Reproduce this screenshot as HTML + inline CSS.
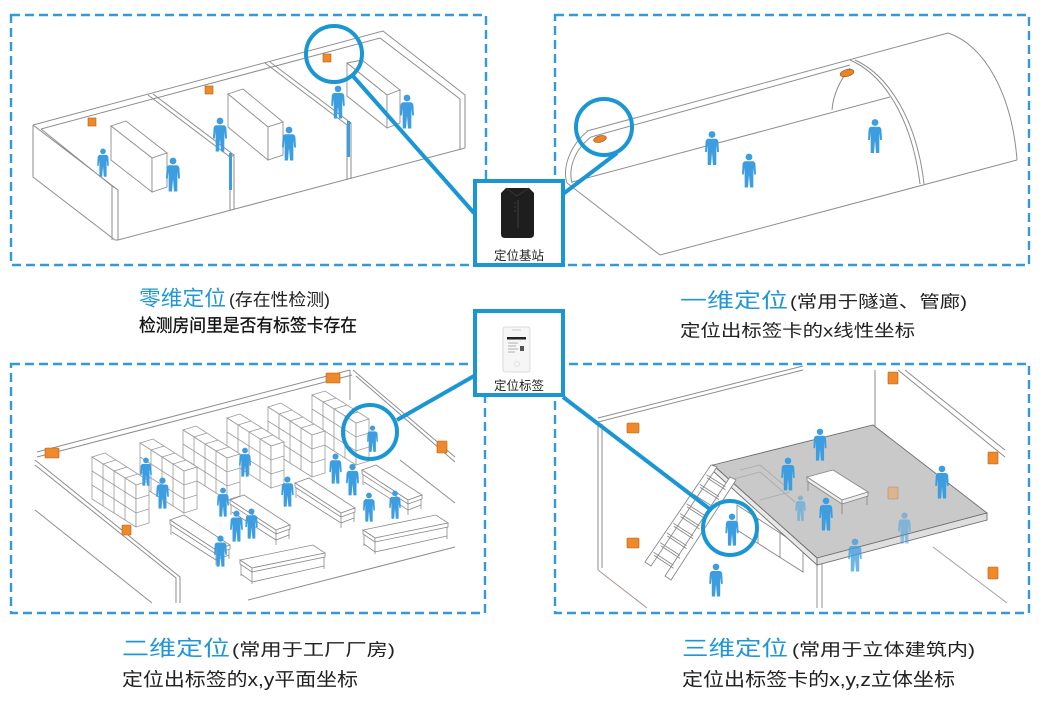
<!DOCTYPE html>
<html><head><meta charset="utf-8"><style>
html,body{margin:0;padding:0;background:#fff;}
svg{display:block}
text{font-family:"Liberation Sans","Noto Sans CJK SC",sans-serif;}
</style></head><body>
<svg width="1044" height="708" viewBox="0 0 1044 708" xmlns="http://www.w3.org/2000/svg">
<defs>
<symbol id="p" viewBox="0 0 14 36">
 <circle cx="7" cy="4" r="3.4"/>
 <path d="M3.2 8.2 H10.8 Q13 8.5 13.4 11 L14 21.5 H12.2 L11.4 14.5 L11.3 34.5 H8 L7 22 L6 34.5 H2.7 L2.6 14.5 L1.8 21.5 H0 L0.6 11 Q1 8.5 3.2 8.2Z"/>
</symbol>
<g id="row" fill="#fff" stroke="#9a9a9a" stroke-width="0.8">
 <polygon points="0,0 13,-4 57,24 44,28"/>
 <polygon points="0,0 44,28 44,70 0,42"/>
 <polygon points="44,28 57,24 57,66 44,70"/>
 <path fill="none" d="M11,7V49M22,14V56M33,21V63M11,7L24,3M22,14L35,10M33,21L46,17M0,14L44,42L57,38M0,28L44,56L57,52"/>
</g>
<g id="tA" fill="#fff" stroke="#8a8a8a" stroke-width="0.8">
 <path fill="none" d="M1,4V15M46,34V45M59,29V39M2,12L46,40L59,35"/>
 <polygon points="0,0 14,-5 60,25 46,30"/>
 <polygon points="0,0 46,30 46,34 0,4"/>
 <polygon points="46,30 60,25 60,29 46,34"/>
</g>
<g id="tB" fill="#fff" stroke="#8a8a8a" stroke-width="0.8">
 <path fill="none" d="M1,4V16M12,12V24M84,-3V9M1,14L12,22L84,6"/>
 <polygon points="0,0 73,-15 85,-7 12,8"/>
 <polygon points="0,0 12,8 12,12 0,4"/>
 <polygon points="12,8 85,-7 85,-3 12,12"/>
</g>
</defs>

<!-- ============ TOP LEFT: rooms ============ -->
<g fill="none" stroke="#8e8e8e" stroke-width="1">
 <path d="M33,125 L383,31 L465,95 V148"/>
 <path d="M41,129 L380,38 L460,99 V150"/>
 <path d="M33,125 V177 L115,240 H118 L465,148"/>
 <path d="M33,125 L118,190 V240 M41,129 L112,186 V240 M112,186 L118,190"/>
 <path d="M148,95 L230,157 V210 M153,94 L234,155 V209 M230,157 L234,155"/>
 <path d="M265,63 L347,125 V180 M270,62 L351,123 V179 M347,125 L351,123"/>
</g>
<g fill="#fff" stroke="#8e8e8e" stroke-width="0.9">
 <polygon points="111,126 126,121 167,153 152,158"/>
 <polygon points="111,126 152,158 152,192 111,160"/>
 <polygon points="152,158 167,153 167,187 152,192"/>
 <polygon points="228,94 243,89 283,122 268,127"/>
 <polygon points="228,94 268,127 268,160 228,127"/>
 <polygon points="268,127 283,122 283,155 268,160"/>
 <polygon points="347,63 362,60 400,90 387,95"/>
 <polygon points="347,63 387,95 387,128 347,96"/>
 <polygon points="387,95 400,90 400,123 387,128"/>
</g>
<g fill="#f0892a" stroke="#b35e14" stroke-width="0.6">
 <rect x="88" y="118" width="8" height="8"/>
 <rect x="205" y="86" width="8" height="8"/>
 <rect x="323" y="54" width="8" height="8"/>
</g>
<g fill="#3c9ee0">
 <use href="#p" x="97" y="148" width="12" height="30"/>
 <use href="#p" x="166" y="157" width="14" height="36"/>
 <use href="#p" x="213" y="117" width="14" height="36"/>
 <use href="#p" x="282" y="126" width="14" height="36"/>
 <use href="#p" x="331" y="85" width="14" height="35"/>
 <use href="#p" x="400" y="94" width="14" height="36"/>
 <rect x="229" y="153" width="3" height="37"/>
 <rect x="347" y="121" width="3" height="36"/>
</g>

<!-- ============ TOP RIGHT: tunnel ============ -->
<g fill="none" stroke="#8e8e8e" stroke-width="1">
 <path d="M587,131 L948,33"/>
 <path d="M567,183 C562,168 570,145 588,131"/>
 <path d="M572,183 C568,168 575,149 591,137"/>
 <path d="M591,137 L850,65"/>
 <path d="M572,182 L890,97"/>
 <path d="M850,60 C885,75 912,120 920,184"/>
 <path d="M855,60 C890,76 917,122 924,184"/>
 <path d="M850,68 C840,80 833,95 832,110"/>
 <path d="M948,33 C985,45 1012,95 1017,160"/>
 <path d="M567,183 L660,255 L1017,160"/>
</g>
<g fill="#e8842a" stroke="#9a5210" stroke-width="0.6">
 <ellipse cx="600" cy="139" rx="6.5" ry="3.2" transform="rotate(-15 600 139)"/>
 <ellipse cx="847" cy="73" rx="7" ry="3.5" transform="rotate(-15 847 73)"/>
</g>
<g fill="#3c9ee0">
 <use href="#p" x="705" y="130" width="14" height="37"/>
 <use href="#p" x="742" y="153" width="14" height="36"/>
 <use href="#p" x="868" y="118" width="14" height="37"/>
</g>

<!-- ============ BOTTOM LEFT: factory ============ -->
<g fill="none" stroke="#8e8e8e" stroke-width="1">
 <path d="M37,452 L350,370 M37,457 L352,375"/>
 <path d="M350,370 V400 M353,370 L455,457 M356,376 L455,462 M400,460 L455,503"/>
 <path d="M35,460 L180,577 V603 M35,465 L176,578 V603"/>
 <path d="M35,510 L152,603"/>
 <path d="M248,600 L455,547"/>
</g>
<use href="#row" x="312" y="395"/>
<use href="#row" x="268" y="407"/>
<use href="#row" x="227" y="418"/>
<use href="#row" x="183" y="430"/>
<use href="#row" x="140" y="443"/>
<use href="#row" x="92" y="457"/>
<use href="#tA" x="362" y="470"/>
<use href="#tA" x="295" y="483"/>
<use href="#tA" x="230" y="500"/>
<use href="#tA" x="170" y="520"/>
<use href="#tB" x="363" y="530"/>
<use href="#tB" x="240" y="560"/>
<g fill="#f0892a" stroke="#b35e14" stroke-width="0.6">
 <rect x="326" y="373" width="14" height="10" rx="1"/>
 <rect x="45" y="448" width="14" height="10" rx="1"/>
 <rect x="122" y="525" width="9" height="10" rx="1"/>
 <rect x="437" y="441" width="10" height="12" rx="1"/>
</g>
<g fill="#3c9ee0">
 <use href="#p" x="140" y="457" width="12" height="30"/>
 <use href="#p" x="156" y="477" width="13" height="33"/>
 <use href="#p" x="239" y="447" width="12" height="31"/>
 <use href="#p" x="217" y="487" width="12" height="31"/>
 <use href="#p" x="230" y="510" width="13" height="33"/>
 <use href="#p" x="245" y="508" width="13" height="32"/>
 <use href="#p" x="214" y="535" width="13" height="33"/>
 <use href="#p" x="281" y="476" width="13" height="32"/>
 <use href="#p" x="329" y="453" width="13" height="32"/>
 <use href="#p" x="346" y="463" width="13" height="34"/>
 <use href="#p" x="363" y="492" width="12" height="31"/>
 <use href="#p" x="389" y="490" width="12" height="30"/>
 <use href="#p" x="367" y="425" width="11" height="28"/>
</g>

<!-- ============ BOTTOM RIGHT: 3D building ============ -->
<g fill="none" stroke="#8e8e8e" stroke-width="1">
 <path d="M598,422 V570 M602,424 V568"/>
 <path d="M598,422 L803,370 M598,418 L803,366"/>
 <path d="M875,370 V427"/>
 <path d="M898,370 L1005,457 M905,370 L1005,450"/>
 <path d="M598,570 L647,608" stroke="#b09090"/>
 <path d="M933,547 L1007,603" stroke="#a0a0a0"/>
</g>
<g stroke="#8a8a8a" stroke-width="0.9">
 <polygon points="737,505 803,548 803,572 737,530" fill="#fff"/>
 <path d="M758,519V543M780,533V557" fill="none"/>
 <path d="M817,564 V608 M822,563 V608" fill="none"/>
 <polygon points="713,465 873,425 987,513 817,558" fill="#c9c9c9" stroke="#6e6e6e"/>
 <polygon points="817,558 987,513 987,520 817,565" fill="#dedede" stroke="#6e6e6e"/>
 <polygon points="713,465 817,558 817,565 713,471" fill="#e8e8e8" stroke="#6e6e6e"/>
 <path d="M740,470 L760,465 L790,490 M730,480 L760,472 L795,502 M760,500 L790,492" fill="none" stroke="#aaa"/>
 <polygon points="807,477 833,470 868,492 842,500" fill="#fff"/>
 <polygon points="807,477 842,500 842,504 807,481" fill="#eee"/>
 <polygon points="842,500 868,492 868,496 842,504" fill="#eee"/>
 <path d="M808,481V491M842,504V514M867,496V505" fill="none"/>
 <polygon points="645,562 711,465 717,467 651,566" fill="#fff"/>
 <polygon points="665,576 730,477 736,480 671,580" fill="#fff"/>
 <path fill="none" d="M653.6,552.3L673.5,565.2M660.2,542.6L680,555.4M666.8,532.9L686.5,545.6M673.4,523.2L693,535.8M680,513.5L699.5,526M686.6,503.8L706,516.2M693.2,494.1L712.5,506.4M699.8,484.4L719,496.6M706.4,474.7L725.5,486.8"/>
 <path fill="none" d="M654,555.3L673.5,568.2M660.6,545.6L680,558.4M667.2,535.9L686.5,548.6M673.8,526.2L693,538.8M680.4,516.5L699.5,529M687,506.8L706,519.2M693.6,497.1L712.5,509.4M700.2,487.4L719,499.6M706.8,477.7L725.5,489.8"/>
</g>
<g fill="#f0892a" stroke="#b35e14" stroke-width="0.6">
 <rect x="627" y="423" width="12" height="10" rx="1"/>
 <rect x="627" y="538" width="12" height="10" rx="1"/>
 <rect x="888" y="372" width="10" height="12" rx="1"/>
 <rect x="988" y="452" width="10" height="12" rx="1"/>
 <rect x="988" y="567" width="10" height="12" rx="1"/>
 <rect x="888" y="487" width="10" height="12" rx="1" fill="#dcb48e" stroke="#b09070"/>
</g>
<g fill="#3c9ee0">
 <use href="#p" x="813" y="428" width="14" height="34"/>
 <use href="#p" x="781" y="457" width="14" height="35"/>
 <use href="#p" x="795" y="495" width="11" height="27" opacity="0.5"/>
 <use href="#p" x="819" y="497" width="14" height="35"/>
 <use href="#p" x="935" y="465" width="14" height="35"/>
 <use href="#p" x="898" y="512" width="13" height="33" opacity="0.5"/>
 <use href="#p" x="848" y="538" width="14" height="35" opacity="0.75"/>
 <use href="#p" x="725" y="513" width="14" height="34"/>
 <use href="#p" x="709" y="563" width="14" height="35"/>
</g>

<!-- ============ dashed frames ============ -->
<g fill="none" stroke="#3399dd" stroke-width="2.4" stroke-dasharray="9,5">
 <rect x="11" y="15" width="475" height="250"/>
 <rect x="555" y="15" width="474" height="250"/>
 <rect x="11" y="364" width="474" height="249"/>
 <rect x="555" y="364" width="474" height="249"/>
</g>

<!-- ============ connectors & circles ============ -->
<g fill="none" stroke="#1a96d4" stroke-width="4">
 <circle cx="334" cy="54" r="28"/>
 <circle cx="604" cy="127" r="28"/>
 <circle cx="370" cy="432" r="27"/>
 <circle cx="730" cy="528" r="27"/>
 <path d="M352,75 L474,213"/>
 <path d="M563,194 L617,153"/>
 <path d="M397,420 L474,376"/>
 <path d="M563,397 L711,510"/>
</g>

<!-- center boxes -->
<rect x="475" y="181" width="88" height="84" fill="#fff" stroke="#1a96d4" stroke-width="4"/>
<rect x="475" y="311" width="88" height="84" fill="#fff" stroke="#1a96d4" stroke-width="4"/>
<path d="M506,188 H529 L534,193 V234 Q534,238 530,238 H505 Q501,238 501,234 V193 Z" fill="#1e1e1e"/>
<path d="M506,188 L517,196 L529,188" fill="none" stroke="#3a3a3a" stroke-width="0.8"/>
<path d="M518,200 V228 M514,203 h2 M514,207 h2 M514,211 h2" stroke="#555" stroke-width="0.6"/>
<rect x="503" y="327" width="27" height="45" rx="2" fill="#f6f6f6" stroke="#d2d2d2" stroke-width="0.8"/>
<rect x="507" y="337" width="19" height="2.5" fill="#222"/>
<path d="M508,343 h10 M508,346 h8 M508,349 h10 M508,352 h7" stroke="#999" stroke-width="0.7"/>
<rect x="520" y="346" width="4" height="5" fill="#555"/>
<path d="M512,330 h9" stroke="#ccc" stroke-width="1"/>
<circle cx="517" cy="364" r="2.5" fill="none" stroke="#ddd" stroke-width="0.8"/>
<text x="519" y="260" font-size="12.5" fill="#222" text-anchor="middle">定位基站</text>
<text x="519" y="390" font-size="12.5" fill="#222" text-anchor="middle">定位标签</text>

<!-- ============ captions ============ -->
<text x="139" y="305.5" font-size="21" fill="#1f97d6" textLength="87" lengthAdjust="spacingAndGlyphs">零维定位</text>
<text x="229" y="305.5" font-size="17" fill="#222" textLength="101" lengthAdjust="spacingAndGlyphs">(存在性检测)</text>
<text x="139" y="331.5" font-size="17.5" fill="#111" stroke="#111" stroke-width="0.3" textLength="218" lengthAdjust="spacingAndGlyphs">检测房间里是否有标签卡存在</text>

<text x="680" y="307.5" font-size="20.5" fill="#1f97d6" textLength="108" lengthAdjust="spacingAndGlyphs">一维定位</text>
<text x="790" y="307.5" font-size="17" fill="#222" textLength="177" lengthAdjust="spacingAndGlyphs">(常用于隧道、管廊)</text>
<text x="680" y="336.5" font-size="17" fill="#222" textLength="235" lengthAdjust="spacingAndGlyphs">定位出标签卡的x线性坐标</text>

<text x="122" y="655.5" font-size="21" fill="#1f97d6" textLength="108" lengthAdjust="spacingAndGlyphs">二维定位</text>
<text x="232" y="655.5" font-size="17" fill="#222" textLength="163" lengthAdjust="spacingAndGlyphs">(常用于工厂厂房)</text>
<text x="122" y="686" font-size="18.5" fill="#222" textLength="236" lengthAdjust="spacingAndGlyphs">定位出标签的x,y平面坐标</text>

<text x="682" y="655.5" font-size="21" fill="#1f97d6" textLength="106" lengthAdjust="spacingAndGlyphs">三维定位</text>
<text x="792" y="655.5" font-size="17" fill="#222" textLength="183" lengthAdjust="spacingAndGlyphs">(常用于立体建筑内)</text>
<text x="682" y="686" font-size="18.5" fill="#222" textLength="273" lengthAdjust="spacingAndGlyphs">定位出标签卡的x,y,z立体坐标</text>
</svg>
</body></html>
